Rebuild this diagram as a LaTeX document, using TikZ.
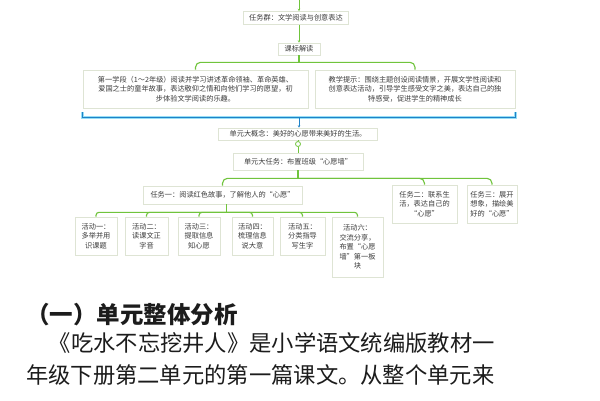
\documentclass[tikz,border=0pt]{standalone}
\usepackage{fontspec}
\newfontfamily\cjk{Noto Sans CJK SC}
\usetikzlibrary{arrows.meta,shadows,calc}
\definecolor{gl}{RGB}{112,196,60}
\definecolor{bl}{RGB}{30,130,200}
\definecolor{bglow}{RGB}{150,222,245}
\definecolor{bx}{RGB}{222,228,212}
\definecolor{tx}{RGB}{60,60,60}
\definecolor{bodytx}{RGB}{28,28,28}
\begin{document}
\begin{tikzpicture}[x=1pt,y=-1pt,
  box/.style={draw=bx, line width=0.6pt, fill=white, inner sep=1pt, align=center, text=tx,
    font=\cjk\fontsize{7.2}{9.6}\selectfont,
    drop shadow={opacity=0.12,shadow xshift=0.8pt,shadow yshift=-0.8pt}},
  gline/.style={draw=gl, line width=1.1pt, rounded corners=5pt},
  gsmall/.style={draw=gl, line width=0.9pt},
  bline/.style={draw=bl, line width=1.3pt, preaction={draw=bglow, line width=3.4pt}},
  body/.style={inner sep=0pt, text=bodytx, font=\cjk\fontsize{22.3}{24}\selectfont}
]
\useasboundingbox[fill=white] (0,0) rectangle (600,400);

% top
\coordinate (tin) at (299,0);
\node[box, minimum width=105pt, minimum height=13pt] (top) at (296,18) {任务群：文学阅读与创意表达};
\node[box, minimum width=42pt, minimum height=12pt] (kb) at (299,49) {课标解读};
\draw[gsmall, -{Stealth[length=2.5pt,width=2.5pt]}] (tin) -- (tin |- top.north);
\draw[gsmall, -{Stealth[length=2.5pt,width=2.5pt]}] (top.south -| kb.north) -- (kb.north);

% two boxes
\node[box, minimum width=225pt, minimum height=38pt] (L) at (195.5,89)
  {第一学段（1～2年级）阅读并学习讲述革命领袖、革命英雄、\\爱国之士的童年故事，表达敬仰之情和向他们学习的愿望，初\\步体验文学阅读的乐趣。};
\node[box, minimum width=200pt, minimum height=38pt] (R) at (415,89)
  {教学提示：围绕主题创设阅读情景，开展文学性阅读和\\创意表达活动，引导学生感受文字之美，表达自己的独\\特感受，促进学生的精神成长};
\coordinate (kbj) at ($(kb.south)+(0,7)$);
\draw[gline] (L.north) |- (kbj) -| (R.north);
\draw[gline] (kb.south) -- (kbj);

% blue bracket
\coordinate (bc) at ($(L.south west)!0.5!(R.south east)+(0,9)$);
\draw[bline] ($(L.south west)+(0,4)$) -- ($(L.south west)+(0,9)$) -- ($(R.south east)+(0,9)$) -- ($(R.south east)+(0,4)$);

% concept and task
\node[box, minimum width=159pt, minimum height=12pt] (concept) at (298,134) {单元大概念：美好的心愿带来美好的生活。};
\draw[draw=bl, line width=0.8pt, -{Stealth[length=2.5pt,width=2.5pt]}] (bc) -- (bc |- concept.north);
\node[box, minimum width=130pt, minimum height=17pt] (task) at (298,161.5) {单元大任务：布置班级“心愿墙”};
\node[circle, draw=gl, fill=white, line width=0.8pt, inner sep=0pt, minimum size=5pt] (cc) at (298,144) {};
\draw[gsmall] (concept.south) -- (cc) -- (task.north);

% tasks
\node[box, minimum width=159pt, minimum height=18pt] (t1) at (222.5,195) {任务一：阅读红色故事，了解他人的“心愿”};
\node[box, minimum width=65pt, minimum height=38pt] (t2) at (424.5,204) {任务二：联系生\\活，表达自己的\\“心愿”};
\node[box, minimum width=50pt, minimum height=38pt] (t3) at (492,204) {任务三：展开\\想象，描绘美\\好的“心愿”};
\coordinate (tj) at ($(task.south)+(0,8)$);
\draw[gline] (t1.north) |- (tj) -| (t3.north);
\draw[gline] (t2.north) |- (tj);
\draw[gline] (task.south) -- (tj);

% activities
\node[box, minimum width=42pt, minimum height=38pt] (a1) at (96,236) {活动一：\\多举并用\\识课题};
\node[box, minimum width=43pt, minimum height=38pt] (a2) at (146.5,236) {活动二：\\读课文正\\字音};
\node[box, minimum width=42pt, minimum height=38pt] (a3) at (199,236) {活动三：\\提取信息\\知心愿};
\node[box, minimum width=41pt, minimum height=38pt] (a4) at (252.5,236) {活动四：\\梳理信息\\说大意};
\node[box, minimum width=45pt, minimum height=38pt] (a5) at (302.5,236) {活动五：\\分类指导\\写生字};
\node[box, minimum width=51pt, minimum height=60pt] (a6) at (357.5,247) {活动六：\\交流分享，\\布置“心愿\\墙”第一板\\块};
\coordinate (aj) at ($(t1.south)+(4,8)$);
\draw[gline, rounded corners=3pt] (a1.north) |- (aj) -| (a6.north);
\draw[gline, rounded corners=3pt] (a2.north) |- (aj);
\draw[gline, rounded corners=3pt] (a3.north) |- (aj);
\draw[gline, rounded corners=3pt] (a4.north) |- (aj);
\draw[gline, rounded corners=3pt] (a5.north) |- (aj);
\draw[gline, rounded corners=3pt] (t1.south -| aj) -- (aj);

% body text
\node[body, anchor=west, font=\cjk\bfseries\fontsize{23.5}{25}\selectfont] (h) at (26,315) {（一）单元整体分析};
\node[body, anchor=east] (p1) at (495,343) {《吃水不忘挖井人》是小学语文统编版教材一};
\node[body, anchor=west] (p2) at (26,375) {年级下册第二单元的第一篇课文。从整个单元来};
\end{tikzpicture}
\end{document}
